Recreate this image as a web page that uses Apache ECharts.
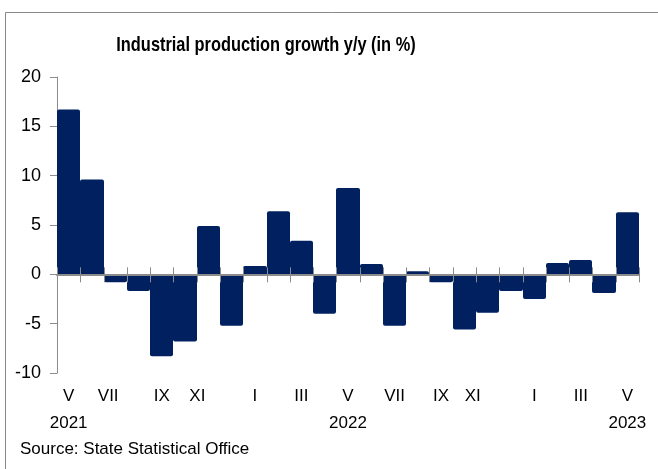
<!DOCTYPE html>
<html>
<head>
<meta charset="utf-8">
<script src="https://cdn.jsdelivr.net/npm/echarts@6/dist/echarts.min.js"></script>
<style>
html, body { margin: 0; padding: 0; background: #fff; }
#chart { width: 658px; height: 469px; }
</style>
</head>
<body>
<div id="chart"></div>
<script>
var months = ['V', 'VI', 'VII', 'VIII', 'IX', 'X', 'XI', 'XII',
	'I', 'II', 'III', 'IV', 'V', 'VI', 'VII', 'VIII', 'IX', 'X', 'XI', 'XII',
	'I', 'II', 'III', 'IV', 'V'];
var years = {0: '2021', 12: '2022', 24: '2023'};
var growth = [16.7, 9.6, -0.8, -1.7, -8.3, -6.8, 4.9, -5.2,
	0.85, 6.4, 3.4, -4.0, 8.75, 1.05, -5.2, 0.3, -0.8, -5.6, -3.9, -1.7,
	-2.5, 1.15, 1.45, -1.9, 6.3];
var yTicks = {min: -10, max: 20, step: 5};

// a few month labels sit a little left of their bar in the original
var labelPadRight = {2: 14, 6: 22, 18: 30};

var chart = echarts.init(document.getElementById('chart'));

var categoryData = months.map(function (m, i) {
	if (labelPadRight[i]) {
		return { value: m, textStyle: { padding: [0, labelPadRight[i], 0, 0] } };
	}
	return m;
});

// bars fill the whole category band, edges snapped to pixels so they touch
function renderBar(params, api) {
	var idx = api.value(0);
	var val = api.value(1);
	var base = api.coord([idx, 0]);
	var top = api.coord([idx, val]);
	var w = api.size([1, 0])[0];
	var x0 = Math.round(base[0] - w / 2);
	var x1 = Math.round(base[0] + w / 2);
	var y = Math.min(base[1], top[1]);
	var h = Math.abs(base[1] - top[1]);
	return {
		type: 'rect',
		shape: { x: x0, y: y, width: x1 - x0, height: h, r: val >= 0 ? [2, 2, 0, 0] : [0, 0, 2, 2] },
		style: { fill: '#002060' }
	};
}

// short ticks crossing the zero line, at each category boundary
function renderTick(params, api) {
	var idx = api.value(0);
	var c = api.coord([idx, 0]);
	var w = api.size([1, 0])[0];
	var xs = [c[0] - w / 2];
	if (idx === months.length - 1) xs.push(c[0] + w / 2);
	return {
		type: 'group',
		children: xs.map(function (x) {
			return {
				type: 'line',
				shape: {x1: Math.round(x) + 0.5, y1: c[1] - 7, x2: Math.round(x) + 0.5, y2: c[1] + 8},
				style: {stroke: '#8c8c8c', lineWidth: 1}
			};
		})
	};
}

var option = {
	animation: false,
	backgroundColor: '#fff',
	graphic: [
		{ type: 'line', shape: {x1: 5.5, y1: 12.5, x2: 658, y2: 12.5}, style: {stroke: '#888', lineWidth: 1} },
		{ type: 'line', shape: {x1: 5.5, y1: 12.5, x2: 5.5, y2: 469}, style: {stroke: '#888', lineWidth: 1} },
		{
			type: 'text', x: 266, y: 45, scaleX: 0.78,
			style: {
				text: 'Industrial production growth y/y (in %)',
				font: 'bold 21px "Liberation Sans", Arial',
				fill: '#000',
				align: 'center',
				verticalAlign: 'middle'
			}
		},
		{
			type: 'text', left: 20, top: 441,
			style: {
				text: 'Source: State Statistical Office',
				font: '17px "Liberation Sans", Arial',
				fill: '#000'
			}
		}
	],
	grid: { left: 57, right: 19, top: 77, bottom: 96, outerBoundsMode: 'none' },
	xAxis: [
		{
			type: 'category',
			data: categoryData,
			position: 'bottom',
			axisLine: { show: false, onZero: false },
			axisTick: { show: false },
			axisLabel: {
				interval: 1,
				margin: 10,
				lineHeight: 27,
				fontSize: 17,
				fontFamily: 'Liberation Sans, Arial',
				color: '#000',
				formatter: function (val, idx) {
					return years[idx] ? val + '\n' + years[idx] : val + '\n';
				}
			}
		},
		{
			type: 'category',
			data: months,
			position: 'bottom',
			z: 10,
			axisLine: { show: true, onZero: true, lineStyle: {color: '#8c8c8c', width: 2} },
			axisTick: { show: false },
			axisLabel: { show: false }
		}
	],
	yAxis: {
		type: 'value',
		min: yTicks.min,
		max: yTicks.max,
		interval: yTicks.step,
		axisLine: { show: true, lineStyle: {color: '#8c8c8c'} },
		axisTick: { show: true, length: 7, lineStyle: {color: '#8c8c8c'} },
		splitLine: { show: false },
		axisLabel: {
			fontSize: 18,
			margin: 16,
			fontFamily: 'Liberation Sans, Arial',
			color: '#000'
		}
	},
	series: [
		{
			type: 'custom',
			data: growth.map(function (v, i) { return [i, v]; }),
			xAxisIndex: 0,
			renderItem: renderBar,
			encode: { x: 0, y: 1 },
			z: 2
		},
		{
			type: 'custom',
			data: months.map(function (m, i) { return [i]; }),
			xAxisIndex: 0,
			renderItem: renderTick,
			z: 12,
			silent: true
		}
	]
};

chart.setOption(option);
</script>
</body>
</html>
